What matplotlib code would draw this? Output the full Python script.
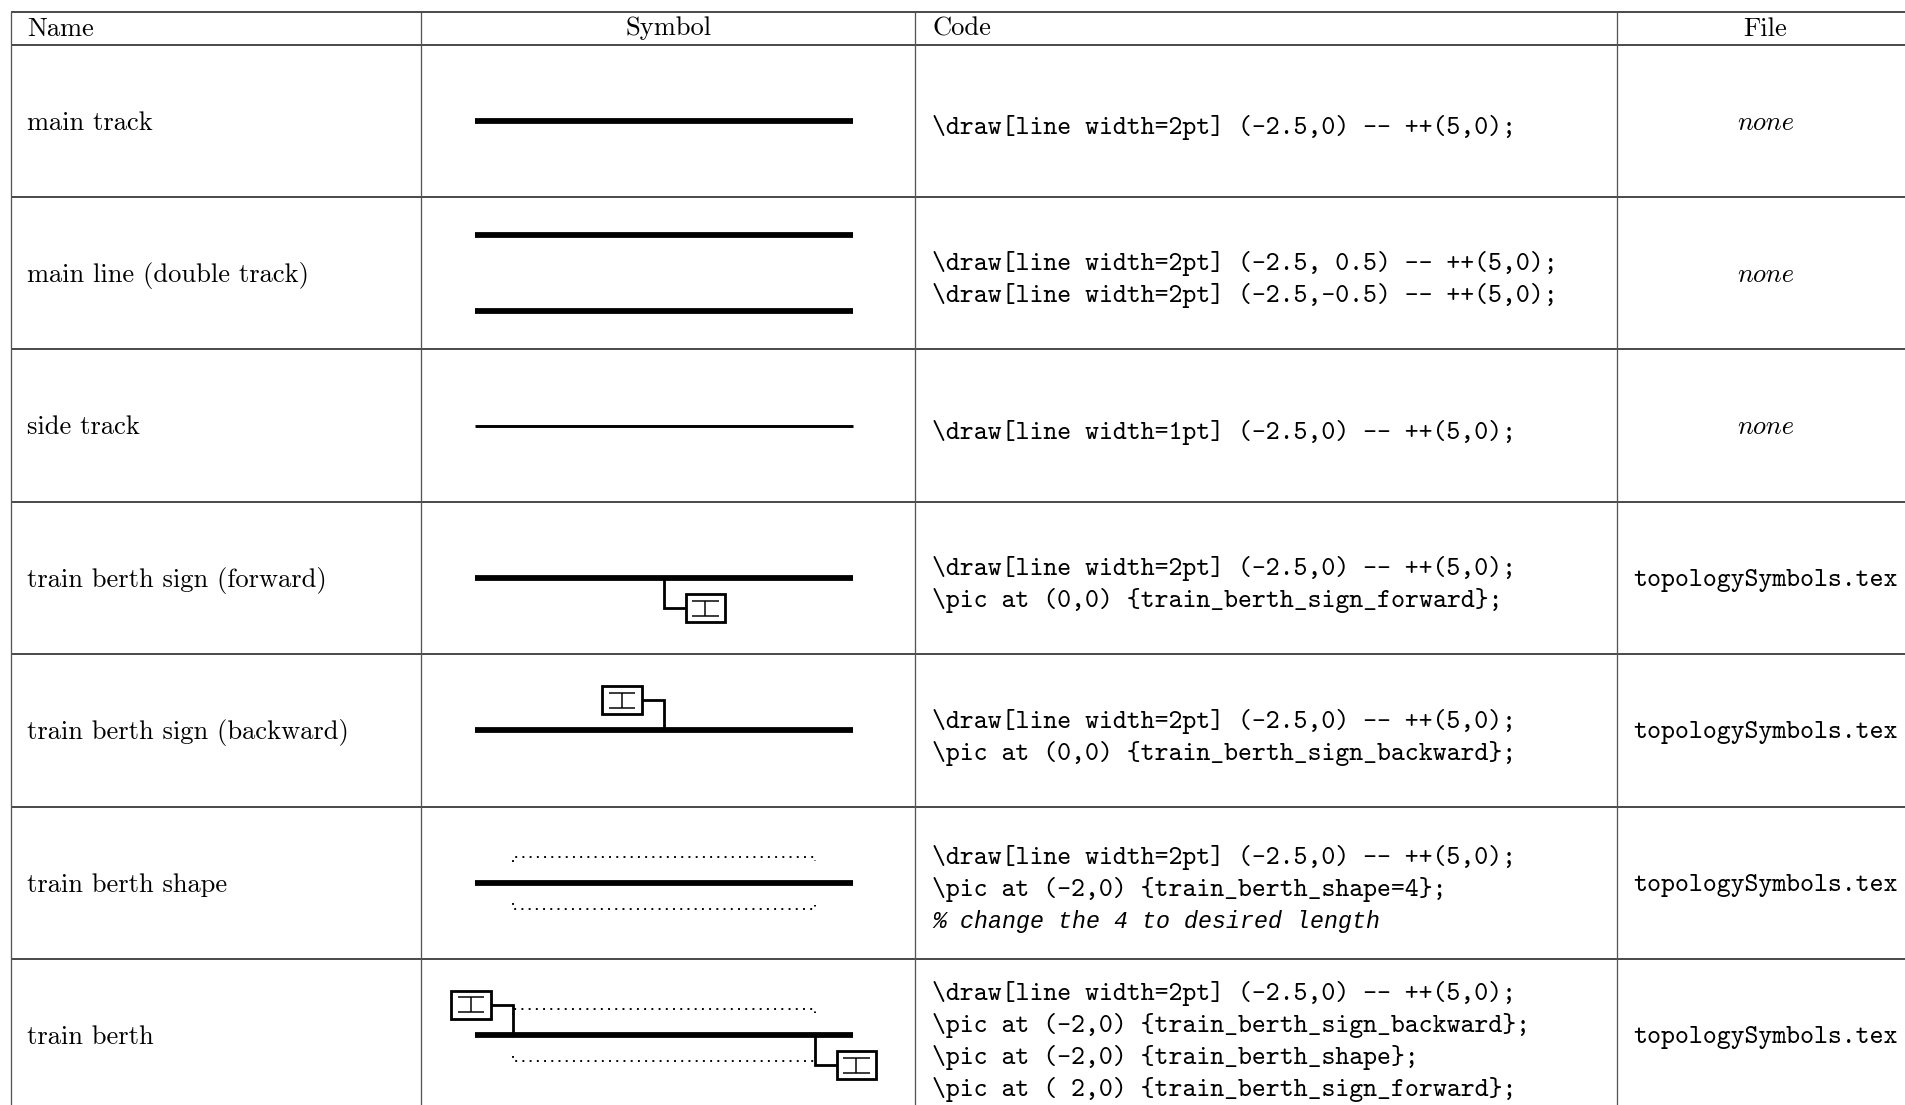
import numpy as np
import matplotlib
matplotlib.use("Agg")
import matplotlib.pyplot as plt
from matplotlib.patches import Rectangle

# Inhoud van de tabel
header_names = ["Name", "Symbol", "Code", "File"]
row_names = ["main track", "main line (double track)", "side track",
             "train berth sign (forward)", "train berth sign (backward)",
             "train berth shape", "train berth"]
row_code = [
    ["\\draw[line width=2pt] (-2.5,0) -- ++(5,0);"],
    ["\\draw[line width=2pt] (-2.5, 0.5) -- ++(5,0);",
     "\\draw[line width=2pt] (-2.5,-0.5) -- ++(5,0);"],
    ["\\draw[line width=1pt] (-2.5,0) -- ++(5,0);"],
    ["\\draw[line width=2pt] (-2.5,0) -- ++(5,0);",
     "\\pic at (0,0) {train_berth_sign_forward};"],
    ["\\draw[line width=2pt] (-2.5,0) -- ++(5,0);",
     "\\pic at (0,0) {train_berth_sign_backward};"],
    ["\\draw[line width=2pt] (-2.5,0) -- ++(5,0);",
     "\\pic at (-2,0) {train_berth_shape=4};",
     "% change the 4 to desired length"],
    ["\\draw[line width=2pt] (-2.5,0) -- ++(5,0);",
     "\\pic at (-2,0) {train_berth_sign_backward};",
     "\\pic at (-2,0) {train_berth_shape};",
     "\\pic at ( 2,0) {train_berth_sign_forward};"],
]
row_files = ["none", "none", "none", "topologySymbols.tex", "topologySymbols.tex",
             "topologySymbols.tex", "topologySymbols.tex"]

# Symbolen in tikz eenheden: (y, lijndikte in pt) en (x, richting)
row_tracks = [[(0, 2)], [(0.5, 2), (-0.5, 2)], [(0, 1)], [(0, 2)], [(0, 2)], [(0, 2)], [(0, 2)]]
row_signs = [[], [], [], [(0, 1)], [(0, -1)], [], [(-2, -1), (2, 1)]]
row_shapes = [[], [], [], [], [], [-2], [-2]]

# Maten in pixels
PX = 72 / 100
UNIT = 75.6
CENTER_X = 663.7
TOP = 11.7
HEADER_BOTTOM = 44.5
ROW_H = 152.4
COLUMNS = [11, 421, 915, 1617]
TEXT_X = 27.2
CODE_X = 932
SYMBOL_X = 668.5
FILE_X = 1765.5
LINE_H = 32
FONT = 19.12

fig = plt.figure(figsize=(19.05, 11.05), dpi=100)
ax = fig.add_axes([0, 0, 1, 1])
ax.set_xlim(0, 1905)
ax.set_ylim(1105, 0)
ax.axis("off")


def sign(x0, y0, d):
    # Bord met verbindingslijn, d=1 vooruit en d=-1 achteruit
    ax.plot([x0, x0, x0 + d * 0.29 * UNIT], [y0, y0 + d * 0.4 * UNIT, y0 + d * 0.4 * UNIT],
            color="black", lw=2.8 * PX, solid_capstyle="butt", solid_joinstyle="miter")
    xb = x0 + d * 0.29 * UNIT if d > 0 else x0 + d * 0.81 * UNIT
    ax.add_patch(Rectangle((xb, y0 + d * 0.4 * UNIT - 0.185 * UNIT), 0.52 * UNIT, 0.37 * UNIT,
                           facecolor="white", edgecolor="black", lw=2.8 * PX, joinstyle="miter"))
    xm = x0 + d * 0.55 * UNIT
    ym = y0 + d * 0.4 * UNIT
    for dy in [-0.1, 0.1]:
        ax.plot([xm - 0.175 * UNIT, xm + 0.175 * UNIT], [ym + dy * UNIT, ym + dy * UNIT],
                color="black", lw=1.5 * PX, solid_capstyle="butt")
    ax.plot([xm, xm], [ym - 0.1 * UNIT, ym + 0.1 * UNIT], color="black", lw=1.5 * PX,
            solid_capstyle="butt")


def shape(x0, y0):
    # Gestippelde contour boven en onder het spoor
    x1 = x0 + 4 * UNIT
    xs = [x0, x0, x1, x1]
    for d in [-1, 1]:
        ys = [y0 + d * 0.27 * UNIT, y0 + d * 0.345 * UNIT, y0 + d * 0.345 * UNIT, y0 + d * 0.29 * UNIT]
        ax.plot(xs, ys, color="black", lw=1.9 * PX, linestyle=(0, (1, 2.8)), dash_capstyle="butt")


# Rasterlijnen
row_tops = np.array([HEADER_BOTTOM + i * ROW_H for i in range(len(row_names))])
for y in [TOP, HEADER_BOTTOM] + list(row_tops[1:]):
    ax.plot([COLUMNS[0], 1905], [y, y], color="#222222", lw=1.6 * PX, solid_capstyle="butt")
for x in COLUMNS:
    ax.plot([x, x], [TOP, 1105], color="#555555", lw=1.3 * PX, solid_capstyle="butt")

# Koptekst
ax.text(TEXT_X, 35.5, header_names[0], family="cmr10", fontsize=FONT)
ax.text(SYMBOL_X, 35.5, header_names[1], family="cmr10", fontsize=FONT, ha="center")
ax.text(CODE_X, 35.5, header_names[2], family="cmr10", fontsize=FONT)
ax.text(FILE_X, 35.5, header_names[3], family="cmr10", fontsize=FONT, ha="center")

for i in range(len(row_names)):
    cy = row_tops[i] + ROW_H / 2
    ax.text(TEXT_X, cy + 9, row_names[i], family="cmr10", fontsize=FONT)

    for y, width in row_tracks[i]:
        ax.plot([CENTER_X - 2.5 * UNIT, CENTER_X + 2.5 * UNIT], [cy - y * UNIT, cy - y * UNIT],
                color="black", lw=width * 2.9 * PX, solid_capstyle="butt")
    for x in row_shapes[i]:
        shape(CENTER_X + x * UNIT, cy)
    for x, d in row_signs[i]:
        sign(CENTER_X + x * UNIT, cy, d)

    lines = row_code[i]
    for j, line in enumerate(lines):
        by = cy + 13.3 + (j - (len(lines) - 1) / 2) * LINE_H
        if line.startswith("%"):
            ax.text(CODE_X, by, line, family="Liberation Mono", style="italic", fontsize=16.75)
        else:
            ax.text(CODE_X, by, line, family="cmtt10", fontsize=FONT)

    if row_files[i] == "none":
        ax.text(FILE_X, cy + 9, row_files[i], family="cmmi10", fontsize=FONT, ha="center")
    else:
        ax.text(FILE_X, cy + 8, row_files[i], family="cmtt10", fontsize=FONT, ha="center")

fig.savefig("out.png", dpi=100)
